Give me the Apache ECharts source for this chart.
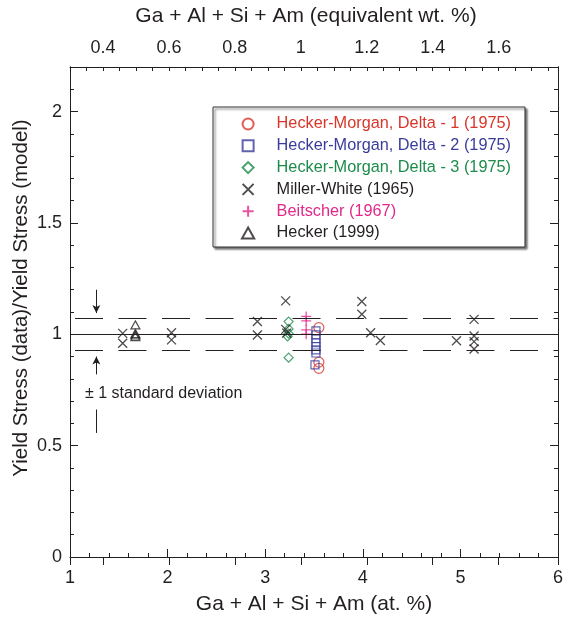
<!DOCTYPE html>
<html><head><meta charset="utf-8">
<script src="https://cdn.jsdelivr.net/npm/echarts@6/dist/echarts.min.js"></script>
<style>html,body{margin:0;padding:0;background:#fff}#c{width:566px;height:620px}</style>
</head><body><div id="c"></div>
<script>
const FONT = '"Liberation Sans", Arial, Helvetica, sans-serif';
const xTitle = 'Ga + Al + Si + Am (at. %)';
const xTopTitle = 'Ga + Al + Si + Am (equivalent wt. %)';
const yTitle = 'Yield Stress (data)/Yield Stress (model)';
const stdText = '\u00b1 1 standard deviation';
const seriesNames = [
  'Hecker-Morgan, Delta - 1 (1975)',
  'Hecker-Morgan, Delta - 2 (1975)',
  'Hecker-Morgan, Delta - 3 (1975)',
  'Miller-White (1965)',
  'Beitscher (1967)',
  'Hecker (1999)'
];
const seriesColors = ['#d9352a', '#3a3c9c', '#1d8c4b', '#231f20', '#e2288a', '#231f20'];
// [at.%, ratio]
const heckerMorgan1 = [[3.55,1.03],[3.55,0.875],[3.55,0.847]];
const heckerMorgan2 = [[3.52,1.015],[3.52,0.997],[3.52,0.98],[3.52,0.962],[3.52,0.945],[3.52,0.93],[3.52,0.916],[3.51,0.863]];
const heckerMorgan3 = [[3.24,1.057],[3.24,1.024],[3.24,1.003],[3.23,0.99],[3.24,0.895]];
const millerWhite = [[1.54,1.004],[1.54,0.96],[2.04,1.007],[2.04,0.975],[2.92,1.057],[2.92,0.997],[3.21,1.15],[3.21,1.022],[3.22,1.005],[3.99,1.147],[3.99,1.09],[4.08,1.007],[4.18,0.972],[4.96,0.971],[5.14,1.067],[5.14,0.992],[5.14,0.967],[5.14,0.934]];
const beitscher = [[3.42,1.08],[3.42,1.06],[3.42,1.02],[3.42,1.0]];
const hecker = [[1.67,1.042],[1.67,1.003],[1.67,0.997],[1.67,0.99]];
const meanValue = 1.0;
const stdUpper = 1.072;
const stdLower = 0.928;
const arrowX = 1.27;
const downArrow = [1.2, 1.095];
const upArrow = [0.82, 0.9];
const barLine = [0.662, 0.557];

const X_PATH = 'path://M0,0L10,10M10,0L0,10';
const PLUS_PATH = 'path://M5,0L5,10M0,5L10,5';
const RECT_PATH = 'path://M0,0L10,0L10,10L0,10Z';
const DIAMOND_PATH = 'path://M5,0L10,5L5,10L0,5Z';
const TRI_PATH = 'path://M5,0L10,9L0,9Z';

const chart = echarts.init(document.getElementById('c'), null, {renderer: 'canvas'});
const isMult = (v, s) => Math.abs(v / s - Math.round(v / s)) < 1e-6;
const fmt = v => String(+(+v).toFixed(2));
const black = '#231f20';
const axisLineStyle = {lineStyle: {color: black, width: 1}};

function yAx(pos, step, len, labels) {
  return {
    type: 'value', position: pos, min: 0, max: 2.2, interval: step,
    axisLine: {show: true, ...axisLineStyle, onZero: false},
    axisTick: {show: true, inside: true, length: len, lineStyle: {color: black}},
    axisLabel: labels ? {show: true, fontSize: 18, color: black, margin: 8, fontFamily: FONT,
      formatter: v => isMult(v, 0.5) ? fmt(v) : ''} : {show: false},
    splitLine: {show: false}
  };
}

const symSeries = (i, data, symbol, size, bw) => ({
  name: seriesNames[i], type: 'scatter', data, symbol, symbolSize: size,
  symbolKeepAspect: true,
  xAxisIndex: 0, yAxisIndex: 0,
  itemStyle: {color: 'transparent', borderColor: seriesColors[i], borderWidth: bw},
  emphasis: {disabled: true}, silent: true, z: 3
});

const option = {
  animation: false,
  textStyle: {fontFamily: FONT},
  grid: {left: 70, right: 5, top: 67, bottom: 62},
  xAxis: [
    {
      type: 'value', position: 'bottom', min: 1, max: 6, interval: 1,
      axisLine: {show: true, ...axisLineStyle, onZero: false},
      axisTick: {show: true, inside: true, length: 8, lineStyle: {color: black}},
      minorTick: {show: true, splitNumber: 5, length: 4, lineStyle: {color: black}},
      axisLabel: {fontSize: 18, color: black, margin: 12, fontFamily: FONT},
      splitLine: {show: false},
      name: xTitle, nameLocation: 'middle', nameGap: 37,
      nameTextStyle: {fontSize: 21, color: black, fontFamily: FONT}
    },
    {
      type: 'value', position: 'top', min: 0.3, max: 1.78, interval: 0.05,
      axisLine: {show: true, ...axisLineStyle, onZero: false},
      axisTick: {show: true, inside: true, length: 4, lineStyle: {color: black}},
      axisLabel: {fontSize: 18, color: black, margin: 10, fontFamily: FONT,
        formatter: v => isMult(v, 0.2) ? fmt(v) : ''},
      splitLine: {show: false},
      name: xTopTitle, nameLocation: 'middle', nameGap: 40,
      nameTextStyle: {fontSize: 21, color: black, fontFamily: FONT, padding: [0, 16, 0, 0]}
    },
    {
      type: 'value', position: 'top', min: 0.3, max: 1.78, splitNumber: 7,
      axisLine: {show: false},
      axisTick: {show: true, inside: true, length: 8, lineStyle: {color: black}},
      axisLabel: {show: false}, splitLine: {show: false}
    }
  ],
  yAxis: [
    yAx('left', 0.1, 4, true),
    yAx('left', 0.5, 8, false),
    yAx('right', 0.1, 4, false),
    yAx('right', 0.5, 8, false)
  ],
  legend: {
    show: true, orient: 'vertical', left: 213, top: 107,
    padding: [9, 14, 6, 28], itemGap: 5.8, itemWidth: 47, itemHeight: 11,
    selectedMode: false, symbolKeepAspect: true,
    backgroundColor: '#fff', borderColor: '#333', borderWidth: 1,
    shadowColor: 'rgba(0,0,0,0.55)', shadowBlur: 2, shadowOffsetX: 2, shadowOffsetY: 2,
    textStyle: {fontSize: 16.3, fontFamily: FONT},
    data: seriesNames.map((n, i) => ({name: n, textStyle: {color: seriesColors[i]}}))
  },
  graphic: [
    {type: 'text', left: 85, top: 386, silent: true,
     style: {text: stdText, fontSize: 16, fontFamily: FONT, fill: black}},
    {type: 'text', x: 21, y: 298, rotation: Math.PI / 2, silent: true,
     style: {text: yTitle, fontSize: 20.5, fontFamily: FONT, fill: black,
             align: 'center', verticalAlign: 'middle'}}
  ],
  series: [
    {
      name: 'refs', type: 'line', data: [], xAxisIndex: 0, yAxisIndex: 0, silent: true, z: 1,
      markLine: {
        silent: true, animation: false, symbol: 'none', label: {show: false},
        emphasis: {disabled: true},
        data: [
          {yAxis: meanValue, lineStyle: {color: black, width: 1, type: 'solid'}},
          {yAxis: stdUpper, lineStyle: {color: black, width: 1, type: [28, 15.5], dashOffset: 38.5}},
          {yAxis: stdLower, lineStyle: {color: black, width: 1, type: [28, 15.5], dashOffset: 38.5}},
          [{coord: [arrowX, downArrow[0]], symbol: 'none'},
           {coord: [arrowX, downArrow[1]], symbol: 'arrow', symbolSize: [6, 8],
            lineStyle: {color: black, width: 1, type: 'solid'}}],
          [{coord: [arrowX, upArrow[0]], symbol: 'none'},
           {coord: [arrowX, upArrow[1]], symbol: 'arrow', symbolSize: [6, 8],
            lineStyle: {color: black, width: 1, type: 'solid'}}],
          [{coord: [arrowX, barLine[0]], symbol: 'none'},
           {coord: [arrowX, barLine[1]], symbol: 'none',
            lineStyle: {color: black, width: 1, type: 'solid'}}]
        ]
      }
    },
    symSeries(0, heckerMorgan1, 'circle', 10, 1.2),
    symSeries(1, heckerMorgan2, RECT_PATH, 8, 1.2),
    symSeries(2, heckerMorgan3, DIAMOND_PATH, 9, 1.2),
    symSeries(3, millerWhite, X_PATH, 9, 1.3),
    symSeries(4, beitscher, PLUS_PATH, 10, 1.3),
    symSeries(5, hecker, TRI_PATH, 9, 1.2)
  ]
};
chart.setOption(option);
</script>
</body></html>
